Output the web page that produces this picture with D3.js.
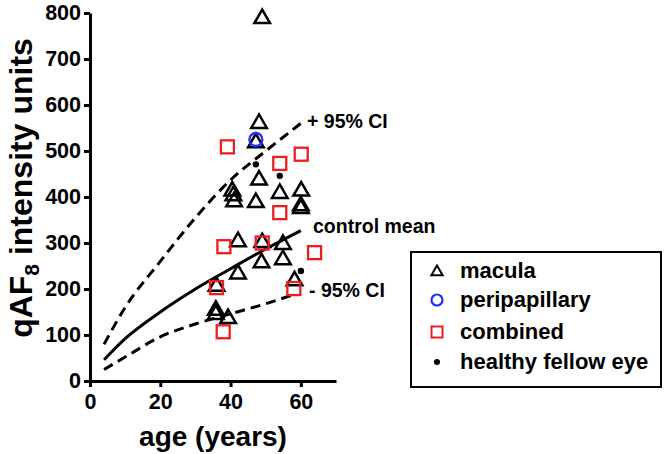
<!DOCTYPE html>
<html>
<head>
<meta charset="utf-8">
<script src="https://cdn.jsdelivr.net/npm/d3@7"></script>
<style>
  html, body { margin: 0; padding: 0; background: #fff; }
  svg text { font-family: "Liberation Sans", Arial, Helvetica, sans-serif; font-weight: bold; }
</style>
</head>
<body>
<svg id="chart" width="666" height="454"></svg>
<script>
// ---- data ----
const xTicks = [0, 20, 40, 60];
const yTicks = [0, 100, 200, 300, 400, 500, 600, 700, 800];

const maculaAge = [49, 48.1, 47.2, 40.5, 40.8, 41, 47.2, 48.1, 54, 60.1, 60, 60, 42.1, 49, 54.9, 48.8, 54.9, 42.1, 36, 58.2, 35.8, 35.8, 39.3];
const maculaVal = [790, 562, 520, 415, 405, 392, 390, 439, 410, 415, 383, 377, 305, 303, 299, 259, 266, 235, 208, 220, 156, 147, 138];

const periAge = [47.2];
const periVal = [525];

const combinedAge = [39.1, 54, 60.1, 54, 38.1, 49, 63.9, 36, 58, 37.9];
const combinedVal = [509, 473, 493, 366, 292, 300, 279, 203, 201, 107];

const fellowAge = [47.2, 54, 60];
const fellowVal = [471, 446, 239];

const curveAges = [4, 10, 20, 30, 40, 50, 60];
const upperCI = [80, 160, 260, 355, 437, 500, 560];
const controlMean = [46, 92, 150, 200, 244, 287, 327];
const lowerAges = [4, 10, 20, 30, 40, 50, 58];
const lowerCI = [25, 52, 96, 124, 146, 168, 188];

const curveLabels = ["+ 95% CI", "control mean", "- 95% CI"];
const legendLabels = ["macula", "peripapillary", "combined", "healthy fellow eye"];

// ---- layout ----
const svg = d3.select("#chart");
const x = d3.scaleLinear().domain([0, 70]).range([90, 336]);
const y = d3.scaleLinear().domain([0, 800]).range([381, 13]);
const RED = "#ee1c1c", BLUE = "#1f2fff";

// axes
const yAxis = svg.append("g").attr("transform", "translate(90,0)")
  .call(d3.axisLeft(y).tickValues(yTicks).tickSize(6).tickPadding(3).tickSizeOuter(0));
const xAxis = svg.append("g").attr("transform", "translate(0,381)")
  .call(d3.axisBottom(x).tickValues(xTicks).tickSize(6).tickPadding(7).tickSizeOuter(0));
[yAxis, xAxis].forEach(g => {
  g.select(".domain").attr("stroke", "#000").attr("stroke-width", 3);
  g.selectAll(".tick line").attr("stroke", "#000").attr("stroke-width", 3);
  g.selectAll(".tick text").attr("fill", "#000").style("font-size", "21.5px")
    .style("font-family", "'Liberation Sans', Arial, sans-serif").style("font-weight", "bold");
});

// axis titles
svg.append("text").attr("x", 213).attr("y", 446).attr("text-anchor", "middle")
  .style("font-size", "28px").text("age (years)");
const yl = svg.append("text").attr("transform", "translate(32,188) rotate(-90)")
  .attr("text-anchor", "middle").style("font-size", "32px");
yl.append("tspan").text("qAF");
yl.append("tspan").attr("dy", 7).style("font-size", "21px").text("8");
yl.append("tspan").attr("dy", -7).text(" intensity units");

// curves
const line = d3.line().x(d => x(d[0])).y(d => y(d[1])).curve(d3.curveMonotoneX);
const up = curveAges.map((a, i) => [a, upperCI[i]]);
const mn = curveAges.map((a, i) => [a, controlMean[i]]);
const lo = lowerAges.map((a, i) => [a, lowerCI[i]]);
svg.append("path").datum(up).attr("d", line).attr("fill", "none").attr("stroke", "#000")
  .attr("stroke-width", 3).attr("stroke-dasharray", "10,6");
svg.append("path").datum(mn).attr("d", line).attr("fill", "none").attr("stroke", "#000")
  .attr("stroke-width", 3);
svg.append("path").datum(lo).attr("d", line).attr("fill", "none").attr("stroke", "#000")
  .attr("stroke-width", 3).attr("stroke-dasharray", "10,6");

// curve labels
svg.append("text").attr("x", 307).attr("y", 128).style("font-size", "19.5px").text(curveLabels[0]);
svg.append("text").attr("x", 313).attr("y", 233).style("font-size", "19.5px").text(curveLabels[1]);
svg.append("text").attr("x", 309).attr("y", 297).style("font-size", "19.5px").text(curveLabels[2]);

// markers
const tri = d3.symbol().type(d3.symbolTriangle).size(105);
function drawTri(g, cx, cy) {
  g.append("path").attr("d", tri()).attr("transform", `translate(${cx},${cy + 1})`)
    .attr("fill", "none").attr("stroke", "#000").attr("stroke-width", 2.5).attr("stroke-linejoin", "miter");
}
function drawSq(g, cx, cy) {
  g.append("rect").attr("x", cx - 6.5).attr("y", cy - 6.5).attr("width", 13).attr("height", 13)
    .attr("fill", "none").attr("stroke", RED).attr("stroke-width", 2.3);
}
function drawCirc(g, cx, cy) {
  g.append("circle").attr("cx", cx).attr("cy", cy).attr("r", 6.5)
    .attr("fill", "none").attr("stroke", BLUE).attr("stroke-width", 2.3);
}
function drawDot(g, cx, cy) {
  g.append("circle").attr("cx", cx).attr("cy", cy).attr("r", 3.2).attr("fill", "#000");
}

const pts = svg.append("g");
maculaAge.forEach((a, i) => drawTri(pts, x(a), y(maculaVal[i])));
combinedAge.forEach((a, i) => drawSq(pts, x(a), y(combinedVal[i])));
periAge.forEach((a, i) => drawCirc(pts, x(a), y(periVal[i])));
fellowAge.forEach((a, i) => drawDot(pts, x(a), y(fellowVal[i])));

// legend
const lg = svg.append("g");
lg.append("rect").attr("x", 411).attr("y", 252).attr("width", 250).attr("height", 135)
  .attr("fill", "#fff").attr("stroke", "#000").attr("stroke-width", 2);
const rows = [271, 300, 332, 362];
const drawers = [
  (cx, cy) => { lg.append("path").attr("d", d3.symbol().type(d3.symbolTriangle).size(55)())
      .attr("transform", `translate(${cx},${cy + 1})`).attr("fill", "none").attr("stroke", "#000").attr("stroke-width", 2); },
  (cx, cy) => { lg.append("circle").attr("cx", cx).attr("cy", cy).attr("r", 5.5).attr("fill", "none").attr("stroke", BLUE).attr("stroke-width", 2.2); },
  (cx, cy) => { lg.append("rect").attr("x", cx - 5.5).attr("y", cy - 5.5).attr("width", 11).attr("height", 11).attr("fill", "none").attr("stroke", RED).attr("stroke-width", 2); },
  (cx, cy) => { lg.append("circle").attr("cx", cx).attr("cy", cy).attr("r", 3).attr("fill", "#000"); }
];
legendLabels.forEach((lab, i) => {
  drawers[i](437, rows[i]);
  lg.append("text").attr("x", 460).attr("y", rows[i] + 7).style("font-size", "22px").text(lab);
});
</script>
</body>
</html>
